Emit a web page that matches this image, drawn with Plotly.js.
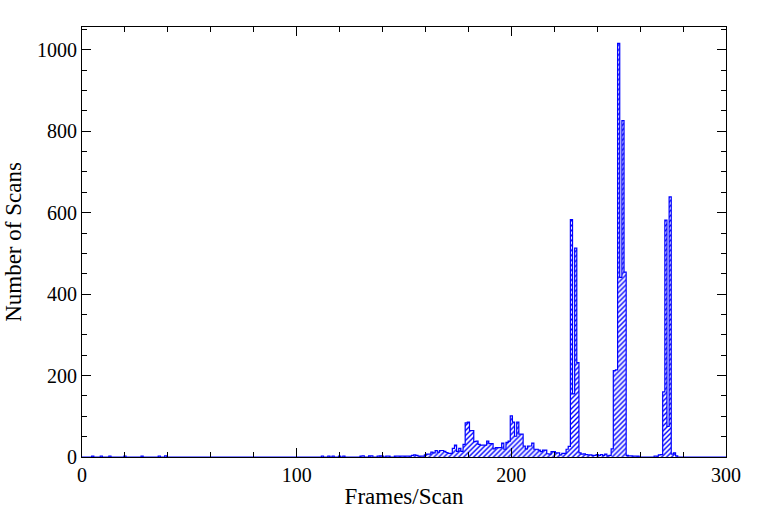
<!DOCTYPE html>
<html>
<head>
<meta charset="utf-8">
<script src="https://cdn.plot.ly/plotly-3.0.1.min.js"></script>
<style>html,body{margin:0;padding:0;background:#fff;}#chart{width:768px;height:512px;}</style>
</head>
<body>
<div id="chart"></div>
<script>
// Frames/Scan bins (non-empty) and their counts (Number of Scans)
const frames = [
  5, 9, 13, 20, 28, 36, 39,
  112, 115, 117, 120, 122, 130, 131, 134, 135, 138, 139, 140, 142, 143,
  146, 147, 148, 149, 150, 151, 152, 153, 154, 155, 156, 157, 158, 159,
  160, 161, 162, 163, 164, 165, 166, 167, 168, 169, 170, 171, 172, 173, 174,
  175, 176, 177, 178, 179, 180, 181, 182, 183, 184, 185, 186, 187, 188, 189,
  190, 191, 192, 193, 194, 195, 196, 197, 198, 199, 200, 201, 202, 203, 204,
  205, 206, 207, 208, 209, 210, 211, 212, 213, 214, 215, 216, 217, 218, 219,
  220, 221, 222, 223, 224, 225, 226, 227, 228, 229, 230, 231, 232, 233, 234,
  235, 236, 237, 238, 239, 240, 241, 242, 243, 244, 245, 246, 247, 248, 249,
  250, 251, 252, 253, 254, 255, 256, 257, 258, 259,
  267, 268, 269, 270, 271, 272, 273, 274, 275, 276, 277
];
const scans = [
  2, 2, 2, 2, 2, 2, 3,
  2, 2, 2, 2, 2, 2, 3, 3, 3, 2, 3, 2, 2, 2,
  2, 2, 2, 2, 2, 2, 2, 2, 4, 5, 4, 2, 2, 2,
  5, 7, 7, 12, 10, 16, 12, 16, 16, 14, 11, 9, 9, 21, 29,
  14, 21, 14, 31, 84, 86, 65, 65, 38, 39, 31, 29, 29, 29, 39,
  33, 33, 20, 23, 23, 23, 34, 19, 36, 39, 101, 86, 51, 86, 56,
  56, 27, 20, 27, 27, 34, 19, 19, 17, 13, 17, 17, 8, 7, 13,
  13, 10, 10, 5, 9, 9, 19, 26, 583, 155, 513, 232, 10, 7, 8,
  6, 5, 5, 4, 4, 6, 4, 6, 4, 7, 3, 4, 20, 212, 214,
  1016, 441, 826, 454, 4, 3, 3, 2, 2, 2,
  2, 2, 5, 6, 160, 582, 75, 639, 7, 10, 3
];
const xTitle = 'Frames/Scan';
const yTitle = 'Number of Scans';

// full histogram table (empty bins = 0) for the step outline
const allFrames = [], allScans = [];
const lookup = {};
frames.forEach((f, i) => { lookup[f] = scans[i]; });
for (let f = 0; f <= 300; f++) { allFrames.push(f); allScans.push(lookup[f] || 0); }

const BLUE = '#0000ff';
const FAM = '"Liberation Serif", "DejaVu Serif", serif';
const tickFont = {family: FAM, size: 20, color: '#000'};
const titleFont = {family: FAM, size: 23, color: '#000'};

const traces = [
  {
    type: 'bar', x: frames, y: scans, width: 1,
    marker: {
      color: '#ffffff',
      line: {width: 0},
      pattern: {shape: '/', fgcolor: BLUE, bgcolor: '#ffffff', size: 3.5, solidity: 0.4}
    },
    hoverinfo: 'x+y'
  },
  {
    type: 'scatter', mode: 'lines', x: allFrames, y: allScans,
    line: {shape: 'hvh', color: BLUE, width: 1.2},
    hoverinfo: 'skip'
  }
];

const layout = {
  width: 768, height: 512,
  margin: {l: 82, r: 42, t: 27, b: 55},
  paper_bgcolor: '#fff', plot_bgcolor: '#fff',
  showlegend: false, bargap: 0,
  font: tickFont,
  xaxis: {
    range: [0, 300], showgrid: false, zeroline: false,
    showline: true, linecolor: '#000', linewidth: 1, mirror: 'allticks',
    ticks: 'inside', tickcolor: '#000', ticklen: 9, tickwidth: 1, dtick: 100, tick0: 0,
    minor: {ticks: 'inside', dtick: 20, ticklen: 5, tickcolor: '#000', tickwidth: 1, showgrid: false},
    tickfont: tickFont,
    title: {text: xTitle, font: titleFont, standoff: 2}
  },
  yaxis: {
    range: [0, 1056], showgrid: false, zeroline: false,
    showline: true, linecolor: '#000', linewidth: 1, mirror: 'allticks',
    ticks: 'inside', tickcolor: '#000', ticklen: 9, tickwidth: 1, dtick: 200, tick0: 0,
    minor: {ticks: 'inside', dtick: 50, ticklen: 5, tickcolor: '#000', tickwidth: 1, showgrid: false},
    tickfont: tickFont,
    title: {text: yTitle, font: titleFont, standoff: 8}
  }
};

Plotly.newPlot('chart', traces, layout, {staticPlot: true, displayModeBar: false});
</script>
</body>
</html>
